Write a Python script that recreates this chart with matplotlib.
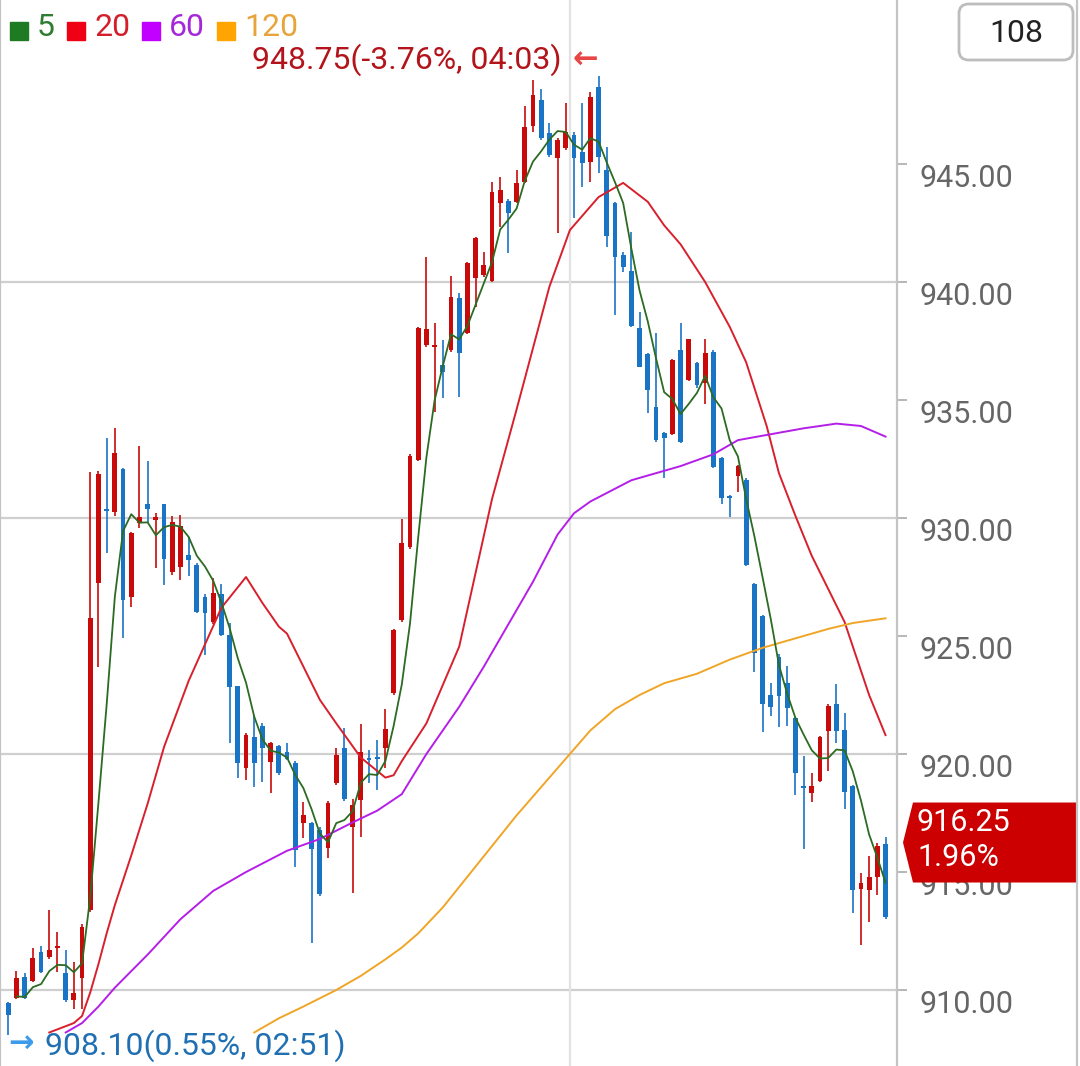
import numpy as np
import pandas as pd
import matplotlib
matplotlib.use("Agg")
import matplotlib.pyplot as plt
from matplotlib.patches import Rectangle, Polygon, FancyBboxPatch
from matplotlib.lines import Line2D

plt.rcParams['font.family'] = ['Roboto', 'DejaVu Sans']

# =========================
# DATA
# =========================
opens = [909.45, 909.66, 910.56, 910.40, 911.62, 911.39, 911.78, 910.71, 909.58, 910.50,
         913.39, 927.23, 930.40, 930.27, 932.06, 926.67, 929.78, 930.59, 929.92, 930.58,
         927.70, 927.94, 928.43, 928.01, 926.67, 925.61, 926.78, 925.04, 922.88, 919.39,
         920.71, 921.19, 919.67, 920.34, 920.10, 919.61, 917.06, 917.09, 916.78, 916.00,
         918.76, 920.24, 916.92, 918.05, 919.82, 919.86, 920.24, 922.57, 925.68, 928.79,
         932.46, 937.33, 937.25, 936.48, 937.12, 939.31, 937.83, 940.16, 940.30, 940.06,
         943.36, 943.44, 943.40, 944.25, 946.61, 947.71, 946.30, 945.24, 945.67, 946.23,
         945.52, 945.10, 948.28, 944.75, 943.33, 941.14, 940.48, 938.04, 936.95, 934.69,
         933.61, 933.56, 937.12, 935.85, 936.56, 935.71, 937.05, 932.53, 930.90, 931.78,
         931.61, 927.20, 925.85, 922.50, 924.12, 923.02, 921.51, 918.65, 918.36, 918.87,
         920.99, 922.12, 921.02, 918.64, 914.27, 914.24, 914.80, 916.19]
highs = [909.50, 910.82, 910.73, 911.77, 911.86, 913.39, 912.47, 911.69, 911.20, 912.80,
         931.96, 932.00, 933.40, 933.80, 932.10, 929.40, 933.05, 932.42, 930.20, 930.60,
         930.08, 930.13, 929.21, 928.10, 926.80, 927.47, 927.19, 925.55, 922.90, 920.90,
         921.65, 921.33, 920.50, 920.40, 920.48, 919.70, 917.98, 917.10, 916.90, 918.00,
         920.24, 921.09, 918.10, 921.27, 920.17, 920.59, 921.89, 925.30, 929.94, 932.70,
         938.10, 941.07, 938.25, 937.54, 940.25, 939.52, 940.86, 941.90, 941.28, 944.25,
         944.46, 943.50, 944.75, 947.46, 948.56, 948.17, 946.75, 946.10, 947.60, 946.37,
         947.57, 948.06, 948.75, 945.71, 943.40, 941.28, 942.13, 938.74, 937.00, 937.85,
         933.65, 936.75, 938.28, 937.60, 936.60, 937.57, 937.10, 932.60, 930.97, 932.25,
         931.70, 927.25, 925.90, 923.02, 924.24, 923.73, 921.55, 919.92, 919.18, 920.75,
         922.10, 922.97, 921.72, 918.70, 914.94, 915.68, 916.24, 916.47]
lows = [908.10, 909.60, 909.60, 910.35, 910.70, 911.30, 910.78, 909.50, 909.19, 909.19,
        913.30, 923.70, 928.50, 930.10, 924.90, 926.24, 929.56, 929.80, 927.87, 927.16,
        927.60, 927.37, 927.54, 925.97, 924.19, 925.50, 925.00, 920.48, 918.97, 918.90,
        918.62, 918.83, 918.36, 919.10, 919.74, 915.23, 916.43, 911.98, 914.00, 915.58,
        918.70, 918.00, 914.10, 916.48, 918.78, 918.47, 919.39, 922.50, 925.60, 928.70,
        932.40, 937.26, 934.50, 935.07, 937.05, 935.11, 937.80, 938.95, 940.22, 940.00,
        942.34, 941.22, 943.33, 944.20, 946.37, 946.00, 945.31, 942.06, 945.60, 942.70,
        944.01, 944.25, 944.61, 941.50, 938.60, 940.44, 938.10, 936.40, 934.44, 933.23,
        931.68, 933.50, 933.17, 935.80, 935.50, 934.83, 932.10, 930.59, 930.03, 931.11,
        927.95, 923.49, 920.95, 921.61, 921.16, 921.19, 918.26, 915.96, 917.98, 918.80,
        919.29, 920.48, 917.66, 913.25, 911.90, 912.90, 914.03, 913.00]
closes = [908.95, 910.51, 909.66, 911.36, 910.78, 911.69, 911.84, 909.58, 909.87, 912.68,
          925.76, 931.86, 930.30, 932.77, 926.53, 929.35, 930.06, 930.37, 930.03, 928.25,
          929.84, 929.66, 928.22, 926.03, 925.96, 926.81, 925.04, 922.84, 919.61, 920.81,
          919.61, 920.24, 920.45, 919.18, 919.78, 915.93, 917.42, 915.96, 914.07, 917.94,
          919.96, 918.08, 917.84, 920.10, 919.75, 919.78, 921.05, 925.25, 928.93, 932.63,
          938.04, 938.00, 937.33, 936.20, 939.35, 936.98, 940.82, 941.85, 940.72, 943.83,
          943.90, 942.91, 944.21, 946.58, 947.92, 946.09, 945.38, 946.02, 946.37, 945.24,
          945.03, 947.82, 945.28, 941.95, 941.07, 940.62, 938.14, 936.41, 935.42, 933.31,
          933.38, 936.69, 933.23, 937.57, 935.64, 936.98, 932.17, 930.83, 930.85, 932.20,
          928.01, 924.29, 922.12, 922.00, 922.46, 921.94, 919.18, 918.58, 918.64, 920.71,
          922.03, 920.99, 918.40, 914.24, 914.52, 914.80, 916.10, 913.08]

ma20_idx = [5, 8, 9, 10, 11, 12, 13, 15, 17, 19, 22, 26, 29, 31, 33, 34, 35, 38, 40, 43,
            46, 47, 48, 51, 55, 59, 62, 66, 68.5, 72, 75, 78, 80, 82, 85, 88, 90, 92.5,
            94, 96, 98, 102, 105, 107]
ma20_val = [908.2, 908.6, 908.9, 909.9, 911.1, 912.4, 913.6, 915.7, 917.9, 920.3, 923.1,
            926.2, 927.5, 926.4, 925.4, 925.1, 924.4, 922.3, 921.3, 919.85, 919.0, 919.1,
            919.7, 921.3, 924.55, 930.8, 934.6, 939.8, 942.2, 943.6, 944.2, 943.4, 942.4,
            941.6, 940.0, 938.1, 936.6, 933.9, 931.9, 930.1, 928.4, 925.6, 922.5, 920.8]

ma60_idx = [7, 9, 11, 13, 17, 21, 25, 29, 34, 38, 42, 45, 48, 51, 55, 58, 61, 64, 67,
            69, 71, 76, 82, 86, 89, 93, 97, 101, 104, 107]
ma60_val = [908.2, 908.6, 909.3, 910.1, 911.5, 913.0, 914.2, 915.0, 915.9, 916.4, 917.1,
            917.6, 918.3, 920.0, 922.0, 923.7, 925.5, 927.3, 929.3, 930.2, 930.7, 931.6,
            932.2, 932.7, 933.3, 933.55, 933.8, 934.0, 933.9, 933.45]

ma120_idx = [30, 33, 36, 40, 43, 46, 48, 50, 53, 56, 59, 62, 65, 68, 71, 74, 77, 80, 84,
             88, 92, 96, 100, 103, 107]
ma120_val = [908.2, 908.8, 909.3, 910.0, 910.6, 911.3, 911.8, 912.4, 913.5, 914.8, 916.1,
             917.4, 918.6, 919.8, 921.0, 921.9, 922.5, 923.0, 923.4, 924.0, 924.5, 924.9,
             925.3, 925.55, 925.75]

ma_labels = ['5', '20', '60', '120']
ma_line_colors = ['#2b6b22', '#d8202c', '#b41ee8', '#f0a526']
ma_swatch_colors = ['#1f7a24', '#f00014', '#c200ff', '#ffa400']
ma_text_colors = ['#2e7d32', '#d21f2b', '#a428d8', '#e8a43a']

y_ticks = [910, 915, 920, 925, 930, 935, 940, 945]
grid_levels = [910, 920, 930, 940]
session_break = 68.5

high_note = "(-3.76%, 04:03)"
low_note = "(0.55%, 02:51)"
last_price = 916.25
last_change = "1.96%"
bar_count_label = "108"

UP = '#c80a0a'
DOWN = '#1a74c6'

# =========================
# FIGURE
# =========================
W, H = 1080, 1066
fig = plt.figure(figsize=(W / 100, H / 100), dpi=100)
ax = fig.add_axes([0, 0, 897 / W, 1])

x = np.arange(len(opens))
o = np.array(opens)
c = np.array(closes)
hi = np.array(highs)
lo = np.array(lows)
up = c >= o
colors = np.where(up, UP, DOWN)

for lvl in grid_levels:
    ax.axhline(lvl, color='#cfcfcf', lw=1.6, zorder=0)
ax.axvline(session_break, color='#e2e2e2', lw=1.6, zorder=0)

# candles
ax.vlines(x, lo, hi, colors=colors, lw=1.2, zorder=2)
body_low = np.minimum(o, c)
body_h = np.maximum(np.abs(c - o), 0.08)
ax.bar(x, body_h, bottom=body_low, width=0.58, color=colors, linewidth=0, zorder=2)

# moving averages
ma5 = pd.Series(closes).rolling(5, min_periods=1).mean()
ax.plot(x[1:], ma5[1:], color=ma_line_colors[0], lw=1.3, zorder=4)
ax.plot(ma20_idx, ma20_val, color=ma_line_colors[1], lw=1.4, zorder=3)
ax.plot(ma60_idx, ma60_val, color=ma_line_colors[2], lw=1.4, zorder=3)
ax.plot(ma120_idx, ma120_val, color=ma_line_colors[3], lw=1.4, zorder=3)

ax.set_xlim(-1.01, 108.4)
ax.set_ylim(906.78, 951.95)

# axes styling
ax.set_xticks([])
ax.yaxis.tick_right()
ax.set_yticks(y_ticks)
ax.set_yticklabels([f"{v:.2f}" for v in y_ticks])
ax.tick_params(axis='y', length=7, width=1.2, color='#aaaaaa', pad=9,
               labelsize=22, labelcolor='#666666')
plt.setp(ax.get_yticklabels(), va='top')
for side in ['top', 'bottom']:
    ax.spines[side].set_visible(False)
for side in ['left', 'right']:
    ax.spines[side].set_color('#c4c4c4')
    ax.spines[side].set_linewidth(1.6)
fig.add_artist(Line2D([1077 / W, 1077 / W], [0, 1], transform=fig.transFigure,
                      color='#c4c4c4', lw=1.6))

# =========================
# ANNOTATIONS
# =========================
hi_i = int(np.argmax(hi))
lo_i = int(np.argmin(lo))
ax.annotate(f"{hi[hi_i]:.2f}{high_note}", xy=(hi_i, hi[hi_i]), xytext=(-37, 16),
            textcoords='offset pixels', ha='right', va='center',
            fontsize=23, color='#b3141b', zorder=6)
ax.annotate("\u2190", xy=(hi_i, hi[hi_i]), xytext=(-1, 16),
            textcoords='offset pixels', ha='right', va='center',
            fontsize=22, fontweight='bold', color='#e84545', zorder=6)
ax.annotate("\u2192", xy=(lo_i, lo[lo_i]), xytext=(0, -9),
            textcoords='offset pixels', ha='left', va='center',
            fontsize=22, fontweight='bold', color='#3d9be9', zorder=6)
ax.annotate(f"{lo[lo_i]:.2f}{low_note}", xy=(lo_i, lo[lo_i]), xytext=(37, -11),
            textcoords='offset pixels', ha='left', va='center',
            fontsize=23, color='#1f6fb2', zorder=6)

# legend row
sw_x = [10, 67, 142, 217]
tx_x = [37, 94, 169, 244]
for lab, sc, tc, sx, tx in zip(ma_labels, ma_swatch_colors, ma_text_colors, sw_x, tx_x):
    fig.add_artist(Rectangle((sx / W, 1 - 40 / H), 18 / W, 18 / H,
                             transform=fig.transFigure, color=sc))
    fig.text(tx / W, 1 - 28 / H, lab, color=tc, fontsize=23, va='center', ha='left')

# bar count box
fig.add_artist(FancyBboxPatch((959 / W, 1 - 60 / H), 114 / W, 56 / H,
                              boxstyle="round,pad=0,rounding_size=0.009",
                              transform=fig.transFigure, fc='white',
                              ec='#bdbdbd', lw=2))
fig.text(1016 / W, 1 - 33 / H, bar_count_label, color='#222222', fontsize=23,
         ha='center', va='center')

# last price tag
fig.canvas.draw()
py = ax.transData.transform((0, last_price))[1]
tag = [(903, py), (913, py + 40), (1077, py + 40), (1077, py - 40), (913, py - 40)]
fig.add_artist(Polygon([(px / W, pyy / H) for px, pyy in tag], closed=True,
                       transform=fig.transFigure, fc='#cc0000', ec='none'))
fig.text(917 / W, (py + 20) / H, f"{last_price:.2f}", color='white', fontsize=22,
         ha='left', va='center')
fig.text(917 / W, (py - 15) / H, last_change, color='white', fontsize=22,
         ha='left', va='center')

fig.savefig("out.png", dpi=100)
